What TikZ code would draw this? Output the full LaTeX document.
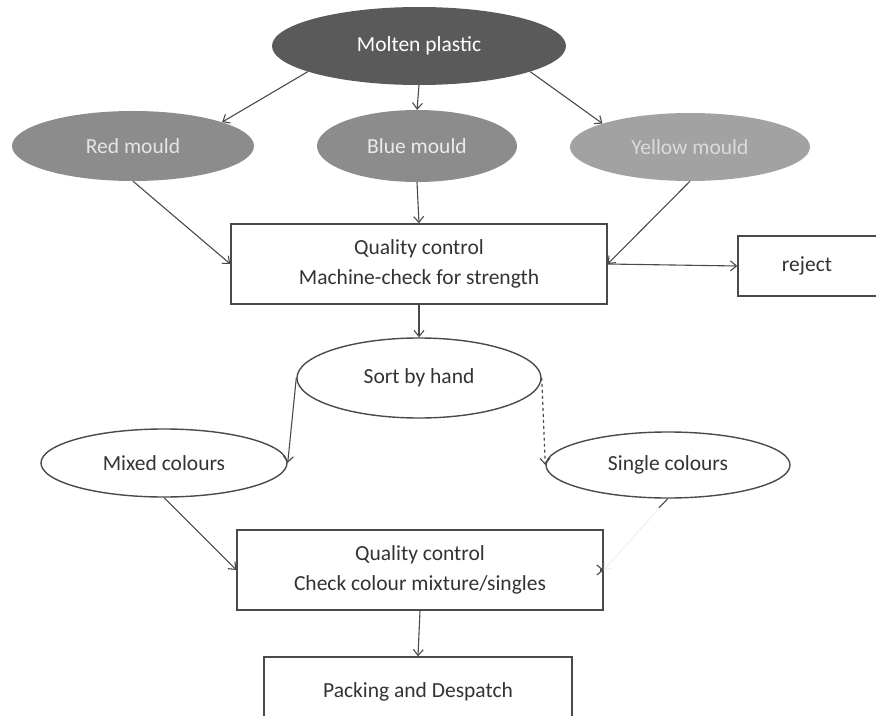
\documentclass[tikz,border=0pt]{standalone}
\usepackage{fontspec}
\setmainfont{Carlito}
\usetikzlibrary{shapes.geometric,arrows.meta}
\definecolor{lineg}{HTML}{4A4A4A}
\definecolor{txt}{HTML}{333333}
\definecolor{darkfill}{HTML}{5A5A5A}
\definecolor{midfill}{HTML}{8C8C8C}
\definecolor{lightfill}{HTML}{A2A2A2}
\begin{document}
\begin{tikzpicture}[x=1bp,y=-1bp,
  every node/.style={font=\fontsize{21.5bp}{30bp}\selectfont, text=txt, inner sep=0pt, align=center},
  oval/.style={ellipse, draw=lineg, line width=1.4bp, fill=white},
  filled/.style={ellipse, draw=none},
  box/.style={rectangle, draw=lineg, line width=1.4bp, fill=white},
  conn/.style={draw=lineg, line width=1.1bp, -{Straight Barb[length=6bp,width=10bp]}}]
\useasboundingbox (0,0) rectangle (876,716);
\fill[white] (0,0) rectangle (876,716);
% nodes
\node[filled, fill=darkfill, minimum width=294bp, minimum height=78bp, text=white] (molten) at (419,46) {Molten plastic};
\node[filled, fill=midfill, minimum width=242bp, minimum height=70bp, text=black!10] (red) at (133,146) {Red mould};
\node[filled, fill=midfill, minimum width=200bp, minimum height=72bp, text=black!8] (blue) at (417,146) {Blue mould};
\node[filled, fill=lightfill, minimum width=240bp, minimum height=68bp, text=black!14] (yellow) at (690,147) {Yellow mould};
\node[box, minimum width=376bp, minimum height=80bp] (qc1) at (419,264) {Quality control\\Machine-check for strength};
\node[box, minimum width=160bp, minimum height=60bp] (reject) at (818,266) {reject\hspace*{22bp}};
\node[oval, minimum width=244bp, minimum height=80bp] (sort) at (419,378) {Sort by hand};
\node[oval, minimum width=246bp, minimum height=68bp] (mixed) at (164,463) {Mixed colours};
\node[oval, minimum width=244bp, minimum height=66bp] (single) at (668,465) {Single colours};
\node[box, minimum width=366bp, minimum height=80bp] (qc2) at (420,570) {Quality control\\Check colour mixture/singles};
\node[box, minimum width=308bp, minimum height=70bp] (pack) at (418,692) {Packing and Despatch};
% connectors
\draw[conn] (molten.-167) -- (red.15);
\draw[conn] (molten.south) -- (blue.north);
\draw[conn] (molten.-13) -- (yellow.165);
\draw[conn] (red.south) -- (qc1.west);
\draw[conn] (blue.south) -- (qc1.north);
\draw[conn] (yellow.south) -- (qc1.east);
\draw[conn] (qc1.east) -- (reject.west);
\draw[conn] (qc1.south) -- (sort.north);
\draw[conn] (sort.west) -- (mixed.east);
\draw[conn, dashed] (sort.east) -- (single.west);
\draw[conn] (mixed.south) -- (qc2.west);
\draw[conn, draw=black!6] (single.south) -- (qc2.east);
\draw[draw=lineg, line width=1.1bp] (single.south) -- ++(-9,9);
\draw[conn] ([xshift=-4bp]qc2.east) -- (qc2.east);
\draw[conn] (qc2.south) -- (pack.north);
\end{tikzpicture}
\end{document}
